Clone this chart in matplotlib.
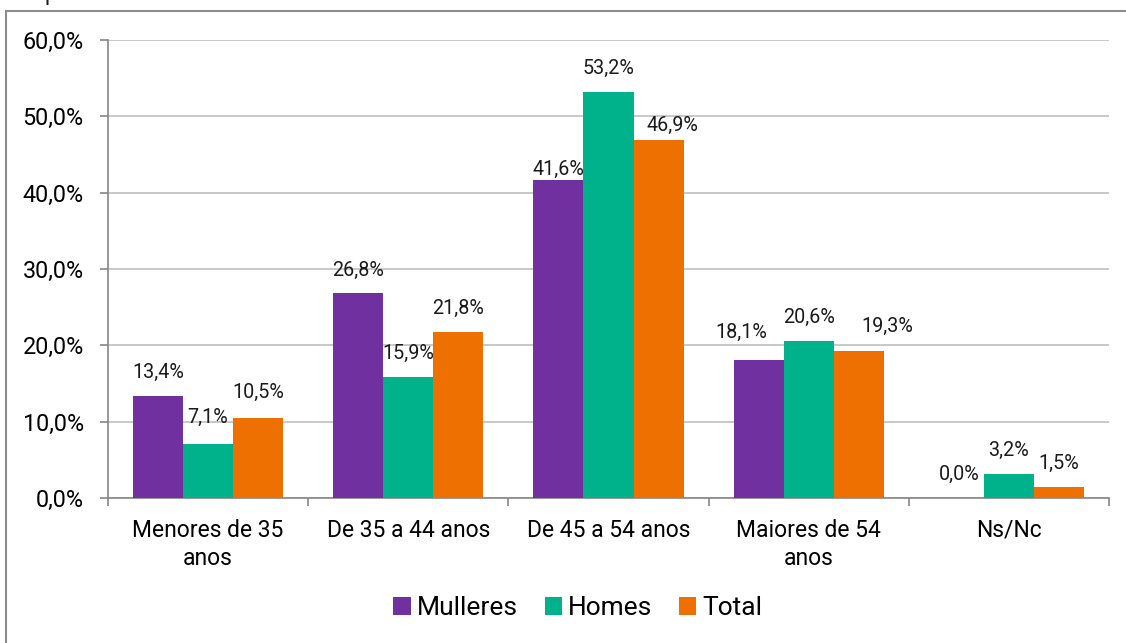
import numpy as np
import matplotlib.pyplot as plt
from matplotlib.patches import Rectangle

plt.rcParams['font.family'] = ['Roboto', 'DejaVu Sans']

# data
categories = ['Menores de 35\nanos', 'De 35 a 44 anos', 'De 45 a 54 anos',
              'Maiores de 54\nanos', 'Ns/Nc']
series = ['Mulleres', 'Homes', 'Total']
mulleres = [13.4, 26.8, 41.6, 18.1, 0.0]
homes = [7.1, 15.9, 53.2, 20.6, 3.2]
total = [10.5, 21.8, 46.9, 19.3, 1.5]
yticks = [0, 10, 20, 30, 40, 50, 60]

colors = ['#7030A0', '#00B28C', '#ED7000']

# hand-moved data labels in the original (series idx, category idx) -> (dx, dy) pixels
nudge = {(1, 0): (0, 26), (2, 0): (0, 25), (0, 3): (-17, 27), (2, 3): (29, 24),
         (2, 2): (14, 15), (0, 2): (0, 11)}

fig = plt.figure(figsize=(11.26, 6.43), dpi=100)
ax = fig.add_axes([108/1126, 1-498/643, 1001/1126, 458/643])

x = np.arange(len(categories))
w = 0.25
for i, (name, vals) in enumerate(zip(series, [mulleres, homes, total])):
    pos = x + (i - 1) * w
    ax.bar(pos, vals, width=w, color=colors[i], label=name, zorder=3)
    for j, (xp, v) in enumerate(zip(pos, vals)):
        dx, dy = nudge.get((i, j), (0, 23.5))
        ax.annotate(f"{v:.1f}".replace('.', ',') + '%', (xp, v),
                    xytext=(dx, dy), textcoords='offset pixels',
                    ha='center', va='center', fontsize=14.2, color='#1a1a1a',
                    zorder=4)

ax.set_xlim(-0.5, len(categories) - 0.5)
ax.set_ylim(0, 60)
ax.set_yticks(yticks)
ax.set_yticklabels([f"{t:.1f}".replace('.', ',') + '%' for t in yticks])
ax.yaxis.grid(True, color='#BFBFBF', linewidth=1.2, zorder=0)
ax.set_axisbelow(True)

# category labels centered, tick marks on boundaries
ax.set_xticks(x)
ax.set_xticklabels(categories, fontsize=16.5, linespacing=1.3)
ax.tick_params(axis='x', length=0, pad=15)
ax.set_xticks(np.arange(len(categories) + 1) - 0.5, minor=True)
ax.tick_params(axis='x', which='minor', length=6, color='#868686', width=1.2)
ax.tick_params(axis='y', labelsize=16.8, length=6, color='#868686', width=1.2, pad=11.5)

for s in ['top', 'right']:
    ax.spines[s].set_visible(False)
for s in ['left', 'bottom']:
    ax.spines[s].set_color('#868686')
    ax.spines[s].set_linewidth(1.2)

ax.legend(loc='center', bbox_to_anchor=(578/1126, 1-608/643),
          bbox_transform=fig.transFigure, ncol=3, frameon=False,
          fontsize=19, handlelength=0.65, handleheight=0.65,
          handletextpad=0.25, columnspacing=1.0)

# outer chart frame (partly cut off)
fig.patches.append(Rectangle((6/1126, -0.1), 1.2, 1.1 - 11/643,
                             transform=fig.transFigure, fill=False,
                             edgecolor='#8c8c8c', linewidth=1.5))
fig.text(45/1126, 1.0, 'p', fontsize=16, va='baseline', color='#1a1a1a')

fig.savefig('out.png', dpi=100)
